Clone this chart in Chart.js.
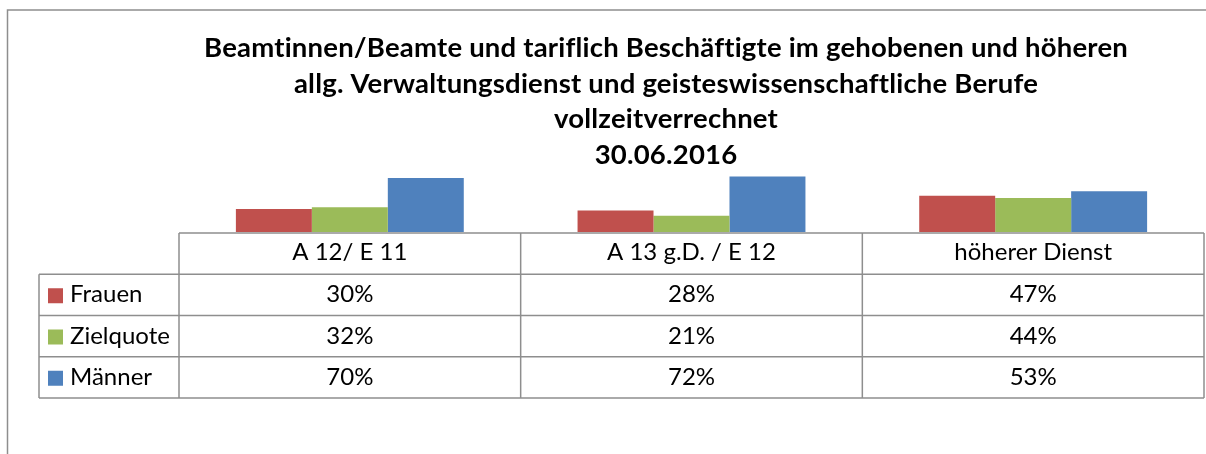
<!DOCTYPE html>
<html>
<head>
<meta charset="utf-8">
<script src="https://cdn.jsdelivr.net/npm/chart.js@4"></script>
<style>
  html, body { margin: 0; padding: 0; background: #fff; }
  #wrap { width: 1206px; height: 454px; }
</style>
</head>
<body>
<div id="wrap"><canvas id="chart" width="1206" height="454"></canvas></div>
<script>
const titleLines = [
  "Beamtinnen/Beamte und tariflich Beschäftigte im gehobenen und höheren",
  "allg. Verwaltungsdienst und geisteswissenschaftliche Berufe",
  "vollzeitverrechnet",
  "30.06.2016"
];
const categories = ["A 12/ E 11", "A 13 g.D. / E 12", "höherer Dienst"];
const seriesNames = ["Frauen", "Zielquote", "Männer"];
const frauen = [0.30, 0.28, 0.47];
const zielquote = [0.32, 0.21, 0.44];
const maenner = [0.70, 0.72, 0.53];
const colors = ["#C0504D", "#9BBB59", "#4F81BD"];

const gridColor = "#8e8e8e";
const tableFont = "24px Lato";
const titleFont = "bold 27.5px Lato";

// frame, title and data table, drawn around the chart area
const decorPlugin = {
  id: "decor",
  beforeDraw(chart) {
    const ctx = chart.ctx;
    ctx.save();
    ctx.fillStyle = "#fff";
    ctx.fillRect(0, 0, chart.width, chart.height);
    ctx.strokeStyle = gridColor;
    ctx.lineWidth = 1.5;
    ctx.beginPath();
    ctx.moveTo(7.5, chart.height);
    ctx.lineTo(7.5, 10);
    ctx.lineTo(chart.width, 10);
    ctx.stroke();

    ctx.fillStyle = "#000";
    ctx.font = titleFont;
    ctx.letterSpacing = "0.2px"; // avoids the "ti" ligature
    ctx.textAlign = "center";
    ctx.textBaseline = "alphabetic";
    titleLines.forEach((t, i) => ctx.fillText(t, 666, 57 + i * 35.7));
    ctx.restore();
  },
  afterDraw(chart) {
    const ctx = chart.ctx;
    const area = chart.chartArea;
    const xs = chart.scales.x;
    const rowH = 41.25;
    const top = area.bottom + 1;
    const legendLeft = 39;
    const datasets = chart.data.datasets;

    ctx.save();
    ctx.strokeStyle = gridColor;
    ctx.lineWidth = 1.5;

    // column borders from the category scale
    const edges = [area.left];
    for (let i = 0; i < categories.length; i++) {
      const c = xs.getPixelForValue(i);
      const next = i < categories.length - 1 ? xs.getPixelForValue(i + 1) : null;
      edges.push(next === null ? area.right : (c + next) / 2);
    }

    ctx.beginPath();
    // header row
    ctx.moveTo(area.left, top);
    ctx.lineTo(area.right, top);
    for (let r = 1; r <= datasets.length + 1; r++) {
      const y = top + r * rowH;
      ctx.moveTo(legendLeft, y);
      ctx.lineTo(area.right, y);
    }
    const bottom = top + (datasets.length + 1) * rowH;
    edges.forEach((x) => {
      ctx.moveTo(x, top);
      ctx.lineTo(x, bottom);
    });
    ctx.moveTo(legendLeft, top + rowH);
    ctx.lineTo(legendLeft, bottom);
    ctx.stroke();

    ctx.fillStyle = "#000";
    ctx.font = tableFont;
    ctx.textBaseline = "alphabetic";
    ctx.textAlign = "center";
    categories.forEach((c, i) => {
      ctx.fillText(c, xs.getPixelForValue(i), top + 27);
    });

    datasets.forEach((ds, r) => {
      const rowTop = top + (r + 1) * rowH;
      ctx.fillStyle = ds.backgroundColor;
      ctx.fillRect(48, rowTop + 14, 15, 15);
      ctx.fillStyle = "#000";
      ctx.textAlign = "left";
      ctx.fillText(ds.label, 70, rowTop + 28);
      ctx.textAlign = "center";
      ds.data.forEach((v, i) => {
        ctx.fillText(Math.round(v * 100) + "%", xs.getPixelForValue(i), rowTop + 28);
      });
    });
    ctx.restore();
  }
};

new Chart(document.getElementById("chart"), {
  type: "bar",
  data: {
    labels: categories,
    datasets: [
      { label: seriesNames[0], data: frauen, backgroundColor: colors[0] },
      { label: seriesNames[1], data: zielquote, backgroundColor: colors[1] },
      { label: seriesNames[2], data: maenner, backgroundColor: colors[2] }
    ]
  },
  options: {
    responsive: false,
    animation: false,
    layout: { padding: { left: 179, right: 2, top: 155, bottom: 222 } },
    datasets: { bar: { categoryPercentage: 0.667, barPercentage: 1 } },
    plugins: {
      legend: { display: false },
      title: { display: false },
      tooltip: { enabled: false }
    },
    scales: {
      x: { display: false },
      y: { display: false, min: 0, max: 1 }
    }
  },
  plugins: [decorPlugin]
});
</script>
</body>
</html>
